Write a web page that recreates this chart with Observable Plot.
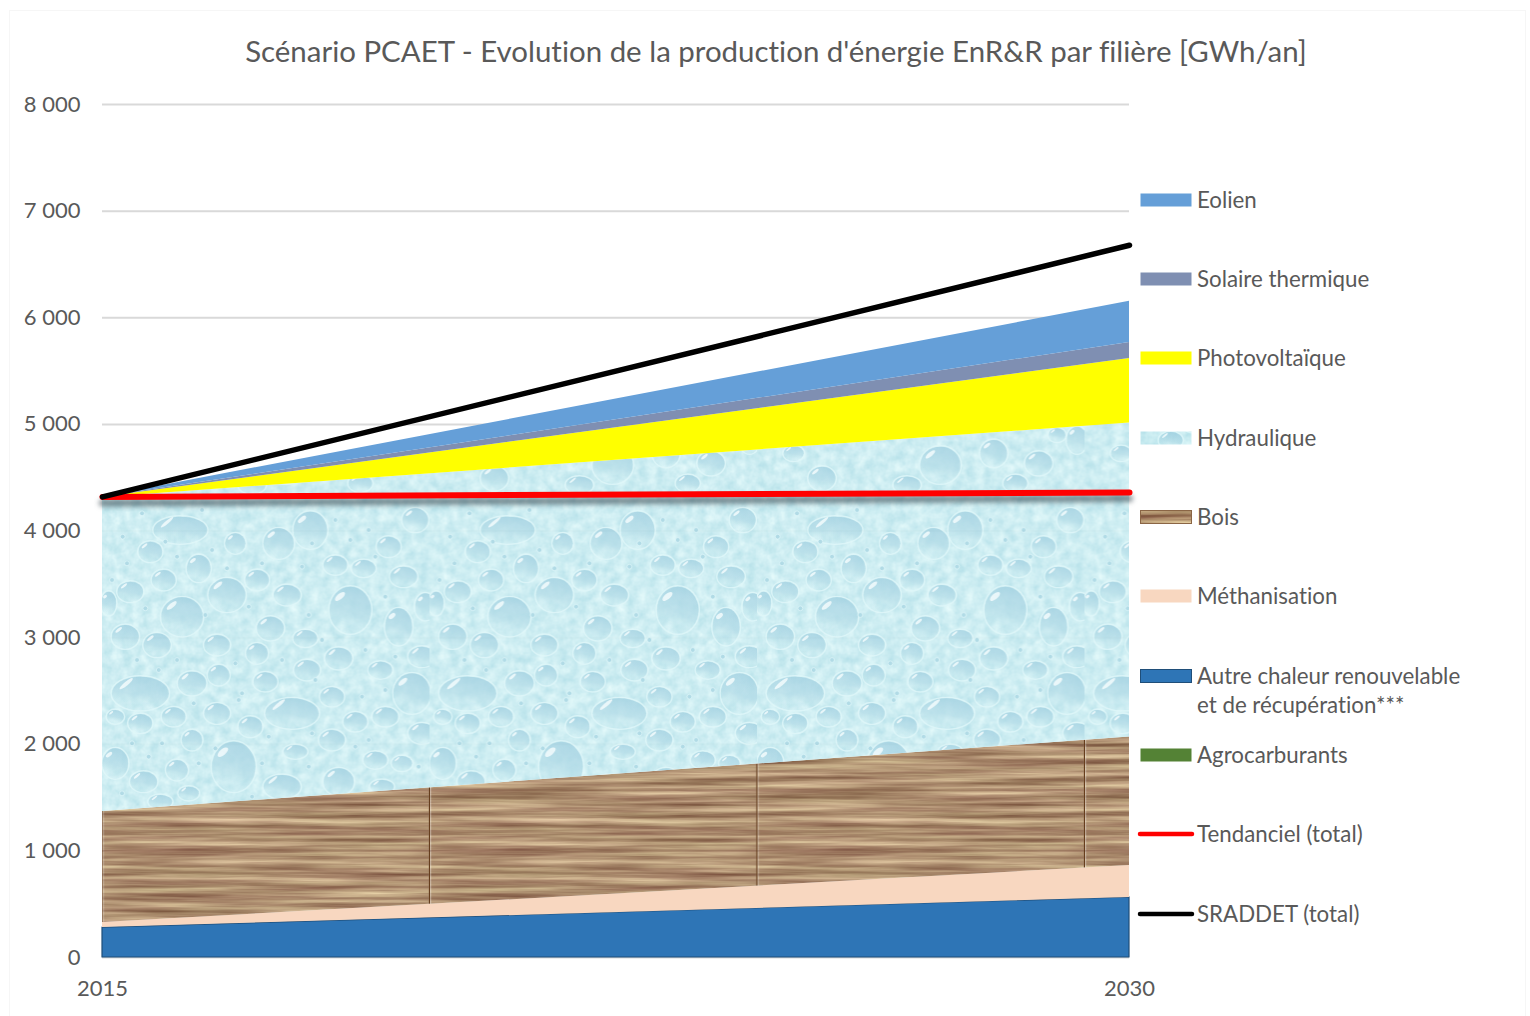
<!DOCTYPE html>
<html lang="fr">
<head>
<meta charset="utf-8">
<script src="https://cdn.jsdelivr.net/npm/d3@7"></script>
<script src="https://cdn.jsdelivr.net/npm/@observablehq/plot@0.6"></script>
<style>
  html, body { margin: 0; padding: 0; background: #fff; }
  body { width: 1530px; height: 1016px; position: relative; overflow: hidden; font-family: Lato, "Open Sans", sans-serif; color: #595959; font-variant-ligatures: none; }
  #frame { position: absolute; left: 9px; top: 10px; right: 4px; bottom: -4px; border: 1px solid #f6f6f6; box-sizing: border-box; pointer-events: none; }
  #title { position: relative; height: 80px; box-sizing: border-box; padding-top: 31px; line-height: 40px; font-size: 29.45px; text-align: center; width: 1552px; color: #595959; white-space: nowrap; }
  #chart { position: absolute; left: 0; top: 80px; }
  #chart svg { display: block; }
  #legend { position: absolute; left: 0; top: 0; }
  .item { position: absolute; left: 1138px; display: flex; align-items: flex-start; font-size: 22.3px; line-height: 29px; white-space: nowrap; }
  .item svg { display: block; margin-right: 5px; margin-top: 7px; flex: none; }
  .item span { display: block; }
</style>
</head>
<body>
<div id="frame"></div>
<div id="title"></div>
<div id="chart"></div>
<div id="legend"></div>
<script>
const titleText = "Scénario PCAET - Evolution de la production d'énergie EnR&R par filière [GWh/an]";
const years = [2015, 2030];
const yTicks = [0, 1000, 2000, 3000, 4000, 5000, 6000, 7000, 8000];

// Annual production by sector (stacked from the bottom), GWh/an
const agrocarburants = [0, 0];
const autreChaleur = [281, 563];
const methanisation = [47, 300];
const bois = [1041, 1205];
const hydraulique = [2945, 2945];
const photovoltaique = [3, 605];
const solaireThermique = [1, 151];
const eolien = [2, 385];

// Total trajectories, GWh/an
const tendanciel = [4320, 4362];
const sraddet = [4320, 6680];

const legendLabels = ["Eolien", "Solaire thermique", "Photovoltaïque", "Hydraulique", "Bois", "Méthanisation", "Autre chaleur renouvelable<br>et de récupération***", "Agrocarburants", "Tendanciel (total)", "SRADDET (total)"];
const legendTops = [199, 278, 357.5, 437, 516, 595, 675, 754.5, 833.5, 913];

const stackNames = ["Agrocarburants", "Autre chaleur", "Méthanisation", "Bois", "Hydraulique", "Photovoltaïque", "Solaire thermique", "Eolien"];
const stackValues = [agrocarburants, autreChaleur, methanisation, bois, hydraulique, photovoltaique, solaireThermique, eolien];
const stackFills = ["#548235", "#2e75b6", "#f8d7c0", "url(#wood)", "url(#water)", "#ffff00", "#7f8fb2", "#659fd8"];

let running = [0, 0];
const areas = stackValues.map((vals, s) => {
  const low = running.slice();
  const high = low.map((v, i) => v + vals[i]);
  running = high;
  const textured = stackFills[s].startsWith("url");
  return Plot.areaY(years, {
    x: d => d,
    y1: (d, i) => low[i],
    y2: (d, i) => high[i],
    fill: stackFills[s],
    fillOpacity: textured ? 0.93 : 1,
    stroke: stackNames[s] === "Autre chaleur" ? "#1f4e79" : "none",
    strokeWidth: 1.2
  });
});

const chart = Plot.plot({
  width: 1530,
  height: 936,
  marginTop: 24,
  marginBottom: 59,
  marginLeft: 102,
  marginRight: 401,
  style: { background: "transparent", fontFamily: "Lato, 'Open Sans', sans-serif", color: "#595959", overflow: "visible" },
  x: { domain: [2015, 2030] },
  y: { domain: [0, 8000] },
  marks: [
    Plot.ruleY(yTicks, { stroke: "#d9d9d9", strokeWidth: 2 }),
    ...areas,
    Plot.line(years, { x: d => d, y: (d, i) => tendanciel[i], stroke: "#33454c", strokeWidth: 7, strokeOpacity: 0.6, dy: 6, imageFilter: "blur(2.5px)" }),
    Plot.line(years, { x: d => d, y: (d, i) => tendanciel[i], stroke: "#ff0000", strokeWidth: 6 }),
    Plot.line(years, { x: d => d, y: (d, i) => sraddet[i], stroke: "#000000", strokeWidth: 5.5 }),
    Plot.axisY({ ticks: yTicks, tickSize: 0, tickPadding: 22, fontSize: 22, fill: "#595959", label: null, tickFormat: d => d3.format(",")(d).replace(",", "\u00a0") }),
    Plot.axisX({ ticks: years, tickSize: 0, tickPadding: 23, fontSize: 22, fill: "#595959", label: null, tickFormat: d => String(d) })
  ]
});

// ---- Picture-fill textures ----
const TILE_W = 327.5, TILE_H = 393;
const dropsMain = [[235,90,80,40],[625,90,50,55],[400,130,30,30],[530,130,45,45],[940,60,38,35],[145,155,35,30],[290,205,35,40],[700,195,35,28],[785,205,35,25],[860,140,35,30],[905,230,40,30],[185,240,35,30],[85,275,38,30],[465,240,35,30],[555,285,40,30],[375,285,55,50],[240,350,62,58],[745,330,62,70],[890,380,40,55],[20,310,22,35],[970,320,30,40],[70,410,40,35],[165,435,40,35],[345,435,38,30],[505,385,40,35],[610,415,35,25],[465,460,32,30],[710,475,40,32],[960,470,40,30],[350,525,32,30],[270,550,42,35],[615,510,38,30],[835,510,35,25],[490,545,35,28],[115,580,85,50],[930,580,55,60],[215,650,35,28],[345,640,38,30],[115,670,35,28],[40,650,25,20],[570,640,80,45],[445,680,35,30],[690,590,35,28],[760,665,35,28],[850,650,38,28],[690,720,38,30],[960,700,40,30],[270,720,30,30],[395,800,65,75],[40,790,38,45],[225,810,32,30],[125,845,40,30],[540,860,55,35],[710,845,45,40],[820,780,35,25],[900,790,30,22],[840,860,35,20],[580,755,35,20],[260,880,30,20],[175,905,35,20]];
const dropsTop = [[550,135,60,55],[710,100,40,40],[845,130,40,35],[195,175,40,35],[450,195,40,25],[775,190,35,25],[900,45,25,20],[960,60,30,40],[110,100,30,22]];
const specks = [[62,110],[190,125],[330,150],[480,190],[630,130],[745,120],[820,170],[75,190],[225,170],[375,205],[600,200],[30,240],[130,325],[310,345],[440,320],[620,345],[850,290],[990,240],[105,480],[225,480],[400,490],[540,480],[660,420],[790,450],[880,470],[170,510],[420,580],[640,540],[780,590],[850,570],[275,610],[410,600],[500,710],[630,700],[800,720],[90,730],[180,730],[340,745],[140,770],[290,790],[480,790],[620,800],[760,740],[950,800],[60,880],[450,890],[940,870],[300,30],[120,40],[700,60],[800,90]];

const defs = d3.select(chart).insert("defs", ":first-child");

const grad = defs.append("linearGradient").attr("id", "dropGrad").attr("x1", 0.65).attr("y1", 0).attr("x2", 0.4).attr("y2", 1);
grad.append("stop").attr("offset", "0").attr("stop-color", "#9fcfe0").attr("stop-opacity", 0.85);
grad.append("stop").attr("offset", "0.55").attr("stop-color", "#aed9e5").attr("stop-opacity", 0.7);
grad.append("stop").attr("offset", "1").attr("stop-color", "#c9ecf2").attr("stop-opacity", 0.1);

// Mottled water background
const mott = defs.append("filter").attr("id", "mottle").attr("x", 0).attr("y", 0).attr("width", 1).attr("height", 1).attr("color-interpolation-filters", "sRGB");
mott.append("feTurbulence").attr("type", "fractalNoise").attr("baseFrequency", "0.1").attr("numOctaves", 3).attr("seed", 4).attr("stitchTiles", "stitch");
mott.append("feColorMatrix").attr("type", "matrix").attr("values", "0.24 0 0 0 0.67  0.13 0 0 0 0.86  0.09 0 0 0 0.9  0 0 0 0 1");

const soft = defs.append("filter").attr("id", "soft").attr("x", 0).attr("y", 0).attr("width", 1).attr("height", 1);
soft.append("feGaussianBlur").attr("stdDeviation", 0.7);

const water = defs.append("pattern").attr("id", "water").attr("patternUnits", "userSpaceOnUse")
  .attr("x", 102).attr("y", 342).attr("width", TILE_W).attr("height", TILE_H);
water.append("rect").attr("width", TILE_W).attr("height", TILE_H).attr("filter", "url(#mottle)");
const waterDrops = water.append("g").attr("filter", "url(#soft)");

function drop(cx, cy, rx, ry) {
  const g = waterDrops.append("g").attr("transform", `translate(${cx},${cy})`);
  g.append("ellipse").attr("rx", rx + 1).attr("ry", ry + 1).attr("fill", "none").attr("stroke", "#ddf6f9").attr("stroke-width", 1.4).attr("stroke-opacity", 0.8);
  g.append("ellipse").attr("rx", rx).attr("ry", ry).attr("fill", "url(#dropGrad)");
  g.append("ellipse").attr("cx", -rx * 0.5).attr("cy", -ry * 0.58).attr("rx", Math.max(1.6, rx * 0.3)).attr("ry", Math.max(0.9, ry * 0.12))
    .attr("transform", `rotate(-40 ${-rx * 0.5} ${-ry * 0.58})`).attr("fill", "#f2fcfd").attr("fill-opacity", 0.85);
}
dropsMain.forEach(([x, y, rx, ry]) => drop(x / 3, y / 3 + 78, rx / 3, ry / 3));
dropsTop.forEach(([x, y, rx, ry]) => drop(x / 3, y / 3 - 2, rx / 3, ry / 3));
specks.forEach(([x, y]) => waterDrops.append("circle").attr("cx", x / 3).attr("cy", y / 3 + 78).attr("r", 2.4).attr("fill", "#abd8e4").attr("stroke", "#def6f9").attr("stroke-width", 0.7));

// Wood grain
const grain = defs.append("filter").attr("id", "grain").attr("x", 0).attr("y", 0).attr("width", 1).attr("height", 1).attr("color-interpolation-filters", "sRGB");
grain.append("feTurbulence").attr("type", "fractalNoise").attr("baseFrequency", "0.0061 0.17").attr("numOctaves", 4).attr("seed", 11).attr("stitchTiles", "stitch");
grain.append("feColorMatrix").attr("type", "matrix").attr("values", "0.62 0 0 0 0.35  0.72 0 0.06 0 0.14  0.6 0 0 0 0.1  0 0 0 0 1");
grain.append("feGaussianBlur").attr("stdDeviation", "1.2 0.45");

const wood = defs.append("pattern").attr("id", "wood").attr("patternUnits", "userSpaceOnUse")
  .attr("x", 102.5).attr("y", 650).attr("width", TILE_W).attr("height", 200);
wood.append("rect").attr("width", TILE_W).attr("height", 200).attr("filter", "url(#grain)");
wood.append("rect").attr("x", TILE_W - 1.2).attr("width", 1.2).attr("height", 200).attr("fill", "#5a2f0c");

document.getElementById("title").textContent = titleText;
document.getElementById("chart").appendChild(chart);

// ---- Legend, beside the plot ----
const legendKinds = [
  { fill: "#659fd8" }, { fill: "#7f8fb2" }, { fill: "#ffff00" }, { fill: "url(#water)" }, { fill: "url(#wood)", stroke: "#8a6545" },
  { fill: "#f8d7c0" }, { fill: "#2e75b6", stroke: "#1f4e79" }, { fill: "#548235" }, { line: "#ff0000" }, { line: "#000000" }
];
const legend = d3.select("#legend");
legendLabels.forEach((label, i) => {
  const item = legend.append("div").attr("class", "item").style("top", (legendTops[i] - 14.5) + "px");
  const svg = item.append("svg").attr("width", 54).attr("height", 16).style("overflow", "visible");
  const k = legendKinds[i];
  if (k.line) {
    svg.append("line").attr("x1", 2).attr("x2", 54).attr("y1", 8).attr("y2", 8).attr("stroke", k.line).attr("stroke-width", 4.5).attr("stroke-linecap", "round");
  } else {
    svg.append("rect").attr("x", 2.5).attr("y", 1.5).attr("width", 51).attr("height", 13).attr("fill", k.fill).attr("stroke", k.stroke || "none");
  }
  item.append("span").html(label);
});
</script>
</body>
</html>
